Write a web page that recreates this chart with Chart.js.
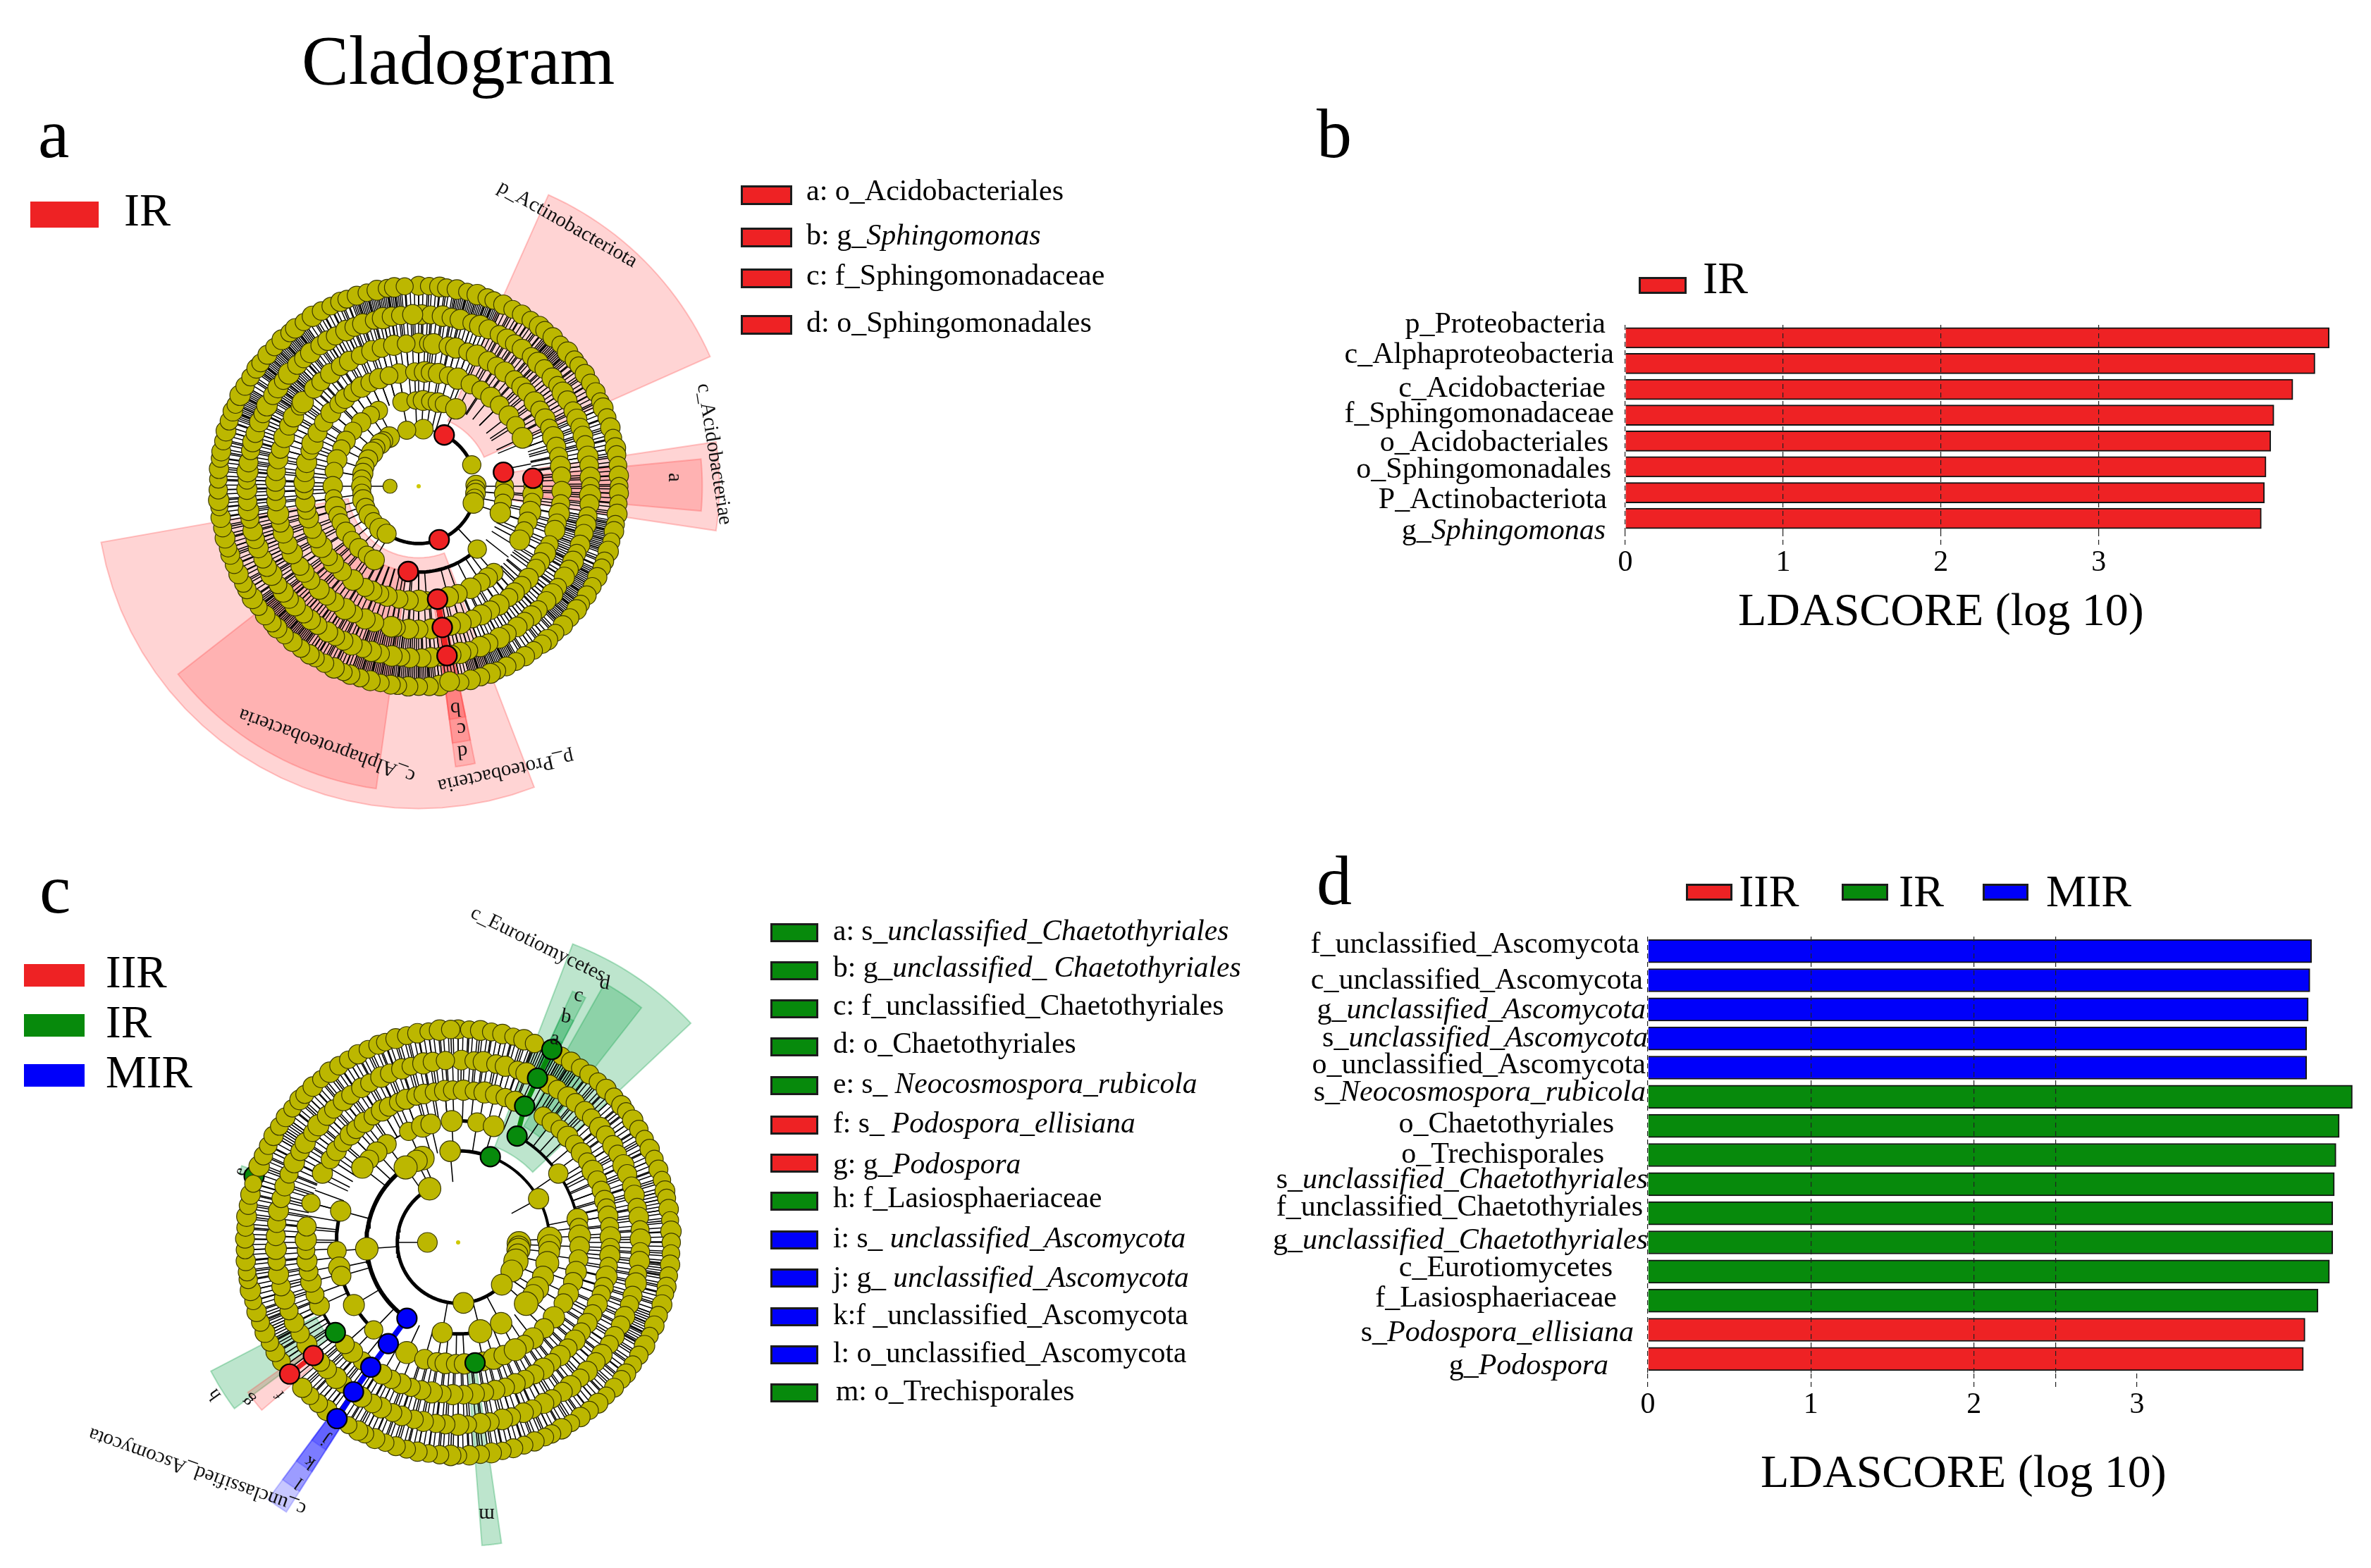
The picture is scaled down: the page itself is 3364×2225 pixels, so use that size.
<!DOCTYPE html>
<html>
<head>
<meta charset="utf-8">
<title>Cladogram</title>
<script src="https://cdn.jsdelivr.net/npm/chart.js@4/dist/chart.umd.min.js"></script>
<style>
  html, body { margin: 0; padding: 0; background: #fff; width: 3364px; height: 2225px; overflow: hidden; }
  #page { position: relative; width: 3364px; height: 2225px; overflow: hidden; font-family: "Liberation Serif", serif; color: #000; }
  #page canvas { position: absolute; }
  .t { position: absolute; white-space: nowrap; line-height: 1; transform: translateY(-50%); }
  .s { position: absolute; box-sizing: border-box; }
</style>
</head>
<body>
<div id="page">
  <canvas id="cladeA" width="1000" height="1000" style="left:94px;top:190px"></canvas>
  <canvas id="cladeC" width="1200" height="1200" style="left:50px;top:1163px"></canvas>
  <canvas id="barB" width="1564" height="414" style="left:1800px;top:400px"></canvas>
  <canvas id="barD" width="1564" height="729" style="left:1800px;top:1280px"></canvas>
</div>
<script>
// bar panel b
var bLabels = ["p_Proteobacteria", "c_Alphaproteobacteria", "c_Acidobacteriae", "f_Sphingomonadaceae", "o_Acidobacteriales", "o_Sphingomonadales", "P_Actinobacteriota", "g_|Sphingomonas"];
var bValues = [4.46, 4.37, 4.23, 4.11, 4.09, 4.06, 4.05, 4.03];
var bTicks = [0, 1, 2, 3];
var bLabelInset = [28, 16, 28, 16, 24, 20, 26, 28];
var bLabelNudge = [-18, -12, -1, -1, 3, 5, 11, 18];

// bar panel d
var dLabels = ["f_unclassified_Ascomycota", "c_unclassified_Ascomycota", "g_|unclassified_Ascomycota", "s_|unclassified_Ascomycota", "o_unclassified_Ascomycota", "s_|Neocosmospora_rubicola", "o_Chaetothyriales", "o_Trechisporales", "s_|unclassified_Chaetothyriales", "f_unclassified_Chaetothyriales", "g_|unclassified_Chaetothyriales", "c_Eurotiomycetes", "f_Lasiosphaeriaceae", "s_|Podospora_ellisiana", "g_|Podospora"];
var dValues = [4.07, 4.06, 4.05, 4.04, 4.04, 4.32, 4.24, 4.22, 4.21, 4.20, 4.20, 4.18, 4.11, 4.03, 4.02];
var dGroups = ["MIR", "MIR", "MIR", "MIR", "MIR", "IR", "IR", "IR", "IR", "IR", "IR", "IR", "IR", "IIR", "IIR"];
var dTicks = [0, 1, 2, 2.5, 3];
var dLabelInset = [12, 7, 3, 0, 3, 3, 48, 62, 0, 7, 0, 50, 44, 20, 56];
var dLabelNudge = [-9, 1, 2, 0, -3, -5, -2, 0, -5, -8, -2, -4, -3, 5, 11];

// legends
var aKey = [["a: o_Acidobacteriales", ""], ["b: g_", "Sphingomonas"], ["c: f_Sphingomonadaceae", ""], ["d: o_Sphingomonadales", ""]];
var cKey = [["a: s_", "unclassified_Chaetothyriales"], ["b: g_", "unclassified_ Chaetothyriales"], ["c: f_unclassified_Chaetothyriales", ""], ["d: o_Chaetothyriales", ""], ["e: s_ ", "Neocosmospora_rubicola"], ["f: s_ ", "Podospora_ellisiana"], ["g: g_", "Podospora"], ["h: f_Lasiosphaeriaceae", ""], ["i: s_ ", "unclassified_Ascomycota"], ["j: g_ ", "unclassified_Ascomycota"], ["k:f _unclassified_Ascomycota", ""], ["l: o_unclassified_Ascomycota", ""], ["m: o_Trechisporales", ""]];
var cKeyGroups = ["IR", "IR", "IR", "IR", "IR", "IIR", "IIR", "IR", "MIR", "MIR", "MIR", "MIR", "IR"];

// cladogram a: node bearings in degrees clockwise from the top, one list per ring
var aRings = [42, 84, 126, 168, 210, 252, 294];
var aDots = [10, 14, 13.5, 14, 14, 14, 13.5];
var aRing42 = [270];
var aRing84 = [4.6, 348, 329, 322, 318, 312, 306, 298, 290, 283, 277, 270, 263, 256, 248, 240, 232, 222, 214, 68, 89, 93, 97, 102, 107];
var aRing126 = [349, 358, 3, 8, 13, 17, 25.7, 332, 326, 318, 310, 302, 296, 288, 280, 270, 262, 256, 250, 245, 238, 231, 224, 217, 211, 90, 95, 101, 108, 137];
var aRing168 = [350, 358, 3, 6, 10, 15, 20, 27, 33, 39, 45, 52, 58, 65, 90, 94, 98, 103, 108, 113, 118, 139, 143, 147, 153, 160, 165, 176, 180, 185, 190, 196, 200, 204, 208, 215, 222, 228, 232, 238, 243, 248, 254, 258, 262, 268, 272, 277, 282, 288, 292, 298, 304, 310, 316, 320, 325, 330, 335, 340, 345];
var aRing210 = [0, 4, 6, 12, 15, 20, 24, 29, 33, 37, 42, 46, 49, 54, 58, 62, 66, 70, 74, 78, 82, 86, 92, 97, 101, 105, 108, 114, 118, 122, 125, 130, 134, 138, 141, 146, 150, 154, 158, 163, 167, 171, 175, 180, 184, 189, 191, 198, 202, 207, 211, 216, 220, 224, 229, 233, 236, 242, 246, 251, 255, 259, 264, 268, 272, 276, 281, 285, 290, 295, 299, 304, 306, 313, 317, 322, 327, 331, 336, 341, 345, 350, 355];
var aRing252 = [1, 4, 8, 11, 14, 18, 21, 24, 28, 31, 34, 37, 41, 44, 47, 51, 54, 57, 60, 64, 67, 70, 73, 76, 80, 83, 87, 90, 93, 96, 100, 103, 106, 110, 113, 116, 119, 122, 126, 129, 132, 136, 139, 142, 145, 149, 152, 156, 159, 163, 166, 169, 173, 176, 179, 183, 186, 189, 193, 196, 199, 203, 206, 209, 212, 216, 219, 222, 226, 229, 232, 235, 239, 242, 245, 249, 252, 255, 259, 262, 265, 269, 272, 275, 278, 282, 285, 288, 292, 295, 298, 302, 305, 308, 311, 315, 318, 321, 325, 328, 331, 335, 338, 341, 345, 348, 351, 354, 358];
var aRing294 = [0, 3, 6, 8, 11, 14, 17, 20, 22, 25, 28, 31, 34, 37, 39, 42, 45, 48, 51, 53, 56, 59, 62, 65, 67, 70, 73, 76, 79, 81, 84, 87, 90, 92, 95, 98, 101, 103, 106, 109, 112, 114, 117, 120, 123, 126, 128, 131, 134, 137, 140, 142, 145, 148, 151, 154, 157, 159, 162, 165, 168, 174, 177, 180, 183, 186, 188, 191, 194, 197, 200, 202, 205, 208, 211, 213, 216, 219, 222, 225, 227, 230, 233, 236, 239, 241, 244, 247, 250, 252, 255, 258, 261, 264, 266, 269, 272, 275, 278, 280, 283, 286, 289, 292, 294, 297, 300, 303, 306, 308, 311, 314, 317, 320, 322, 325, 328, 331, 334, 337, 339, 342, 345, 348, 351, 353, 356];
var dotScale = [1, 0.92, 1.05, 0.95, 1.03, 0.9, 1.08, 0.97, 0.93, 1.02, 0.94];
var aBigNodes = [[171, 290]];
var aRedNodes = [[26.5, 84], [159, 84], [80.6, 126], [187, 126], [86, 168], [170.5, 168], [170.5, 210], [170.5, 252]];
// [inner ring, outer ring, from bearing, to bearing, branches]
var aBranches = [[252, 294, 0, 10, 8], [252, 294, 10, 25, 28], [252, 294, 25, 40, 12], [252, 294, 40, 50, 18], [252, 294, 50, 100, 38], [252, 294, 100, 110, 18], [252, 294, 110, 115, 4], [252, 294, 115, 135, 36], [252, 294, 135, 150, 12], [252, 294, 150, 165, 28], [252, 294, 165, 175, 10], [252, 294, 175, 200, 44], [252, 294, 200, 215, 14], [252, 294, 215, 235, 36], [252, 294, 235, 290, 42], [252, 294, 290, 300, 18], [252, 294, 300, 305, 4], [252, 294, 305, 325, 36], [252, 294, 325, 340, 12], [252, 294, 340, 355, 28], [252, 294, 355, 360, 4],
  [210, 252, 0, 60, 40], [210, 252, 60, 100, 26], [210, 252, 100, 118, 22], [210, 252, 118, 180, 44], [210, 252, 180, 200, 26], [210, 252, 200, 260, 44], [210, 252, 260, 300, 30], [210, 252, 300, 315, 20], [210, 252, 315, 360, 34],
  [168, 210, 0, 90, 36], [168, 210, 90, 180, 32], [168, 210, 180, 270, 40], [168, 210, 270, 360, 36],
  [126, 168, 0, 90, 8], [126, 168, 95, 135, 6], [126, 168, 180, 270, 22], [126, 168, 270, 360, 18]];
var aArcs = [[84, 108, 159, 5], [84, 159, 214, 5], [84, 26.5, 68, 5], [126, 137, 187, 5], [84, 348, 386, 2], [126, 349, 385, 2]];
// [from bearing, to bearing, inner ring, outer ring, fill]
var aWedges = [[24, 66, 105, 468, "p"], [81.5, 98.5, 135, 441, "p"], [84.5, 95, 165, 416, "p"], [159, 260, 105, 473, "p"], [188, 232, 126, 448, "p"], [168.5, 172.5, 170, 415, "p"], [168.5, 172.5, 205, 380, "p"], [168.5, 172.5, 250, 345, "p"]];
// [bearing, ring, rotation, text, size]
var aTags = [[29.6, 442, 29.6, "p_Actinobacteriota", 29], [83.8, 436, 81, "c_Acidobacteriae", 29], [88, 375, 90, "a", 29], [199.5, 403, 199.9, "c_Alphaproteobacteria", 29], [163, 437, 167.7, "p_Proteobacteria", 29], [170.6, 330, 175, "b", 29], [170, 361, 175, "c", 29], [170.6, 394, 175, "d", 29]];

// cladogram c
var cRings = [45, 89, 134, 178, 223, 267, 312];
var cDots = [14, 16, 16, 14.5, 14, 14, 13.5];
var cRing45 = [270];
var cRing89 = [332, 175, 91, 94, 97, 101, 108, 118, 134];
var cRing134 = [266, 355, 337, 333, 325, 61.5, 88, 92, 96, 103, 112, 120, 125, 132, 152, 166, 190];
var cRing178 = [285, 266, 258, 254, 239, 224, 205, 196, 190, 186, 181, 177, 168, 163, 158, 357, 336, 343, 347, 9, 17, 324, 318, 313, 308, 55.5, 79, 83, 87, 92, 98, 104, 109, 115, 120, 128, 135, 142, 147, 152];
var cRing223 = [245.5, 250, 255, 259, 263, 267, 271, 276, 285, 297, 303, 307, 311, 315, 318, 322, 326, 330, 333, 337, 340, 344, 347, 351, 355, 358, 2, 6, 10, 14, 18, 22, 34, 38, 42, 46, 50, 54, 58, 62, 66, 70, 74, 77, 80, 84, 88, 92, 95, 99, 103, 107, 110, 114, 118, 122, 126, 130, 134, 138, 142, 146, 150, 154, 158, 162, 166, 170, 174, 178, 182, 186, 190, 194, 198, 202, 206, 210, 219, 224, 228];
var cRing267 = [1, 5, 8, 12, 15, 19, 22, 30, 33, 37, 40, 44, 47, 51, 54, 58, 61, 65, 68, 72, 75, 79, 82, 86, 89, 93, 96, 100, 103, 107, 110, 114, 117, 121, 124, 128, 131, 135, 138, 142, 145, 149, 152, 156, 159, 163, 166, 170, 173, 177, 180, 184, 187, 191, 194, 198, 201, 205, 208, 212, 219, 222, 226, 229, 236, 240, 244, 248, 252, 256, 260, 264, 268, 272, 276, 280, 284, 288, 292, 296, 300, 303, 307, 310, 314, 317, 321, 324, 328, 331, 335, 338, 342, 345, 349, 352, 356];
var cRing312 = [0, 3, 6, 9, 12, 15, 18, 21, 29, 32, 35, 38, 41, 44, 47, 50, 52, 55, 58, 61, 64, 67, 70, 73, 76, 78, 81, 84, 87, 90, 93, 96, 99, 102, 104, 107, 110, 113, 116, 119, 122, 125, 128, 130, 133, 136, 139, 142, 145, 148, 151, 154, 156, 159, 162, 165, 168, 171, 174, 177, 180, 182, 185, 188, 191, 194, 197, 200, 203, 206, 208, 211, 218, 221, 224, 227, 236, 239, 242, 245, 248, 251, 254, 257, 260, 262, 265, 268, 271, 274, 277, 280, 283, 286, 291, 294, 297, 300, 303, 306, 309, 312, 314, 317, 320, 323, 326, 329, 332, 335, 338, 340, 343, 346, 349, 352, 355, 358];
var cGreenNodes = [[20.6, 134], [29, 178], [26, 222], [25.8, 267], [25.9, 314], [233.7, 223], [172, 178]];
var cHiddenNodes = [[288, 314]];
var cRedNodes = [[232, 269], [232, 313]];
var cBlueNodes = [[214, 134], [214.6, 180], [215, 223], [215, 267], [214.5, 313]];
var cBranches = [[267, 312, 0, 20, 15], [267, 312, 20, 35, 22], [267, 312, 35, 75, 30], [267, 312, 75, 82, 7], [267, 312, 82, 95, 10], [267, 312, 95, 100, 7], [267, 312, 100, 110, 8], [267, 312, 110, 120, 14], [267, 312, 120, 180, 44], [267, 312, 180, 240, 44], [267, 312, 240, 250, 12], [267, 312, 250, 300, 36], [267, 312, 300, 306, 8], [267, 312, 306, 360, 40],
  [223, 267, 0, 60, 32], [223, 267, 60, 120, 34], [223, 267, 120, 180, 32], [223, 267, 180, 240, 36], [223, 267, 240, 300, 32], [223, 267, 300, 360, 34],
  [178, 223, 60, 120, 18], [178, 223, 120, 200, 30], [178, 223, 270, 300, 6], [178, 223, 300, 360, 12]];
var cArcs = [[89, 175, 332, 5], [89, 134, 175, 5], [134, 355, 380.6, 5], [134, 20.6, 90, 4], [134, 214, 325, 6], [178, 214, 285, 5], [178, 29, 79, 4], [134, 166, 190, 5], [134, 152, 166, 4], [178, 357, 369, 5], [223, 233, 245, 4], [178, 308, 336, 2]];
var cWedges = [[21, 46.7, 150, 468, "g"], [29.5, 38, 195, 436, "g"], [24.5, 27.5, 265, 404, "g"], [24.5, 27.5, 270, 366, "g"], [24.5, 27.5, 290, 330, "g"], [233.4, 242.5, 235, 408, "g"], [229.5, 234.5, 275, 378, "p"], [171.8, 175.5, 180, 445, "g"], [287.5, 289.5, 322, 336, "g"], [212.5, 216.5, 315, 468, "b"], [212.5, 216.5, 315, 432, "b"], [212.5, 216.5, 315, 398, "b"], [212.5, 216.5, 315, 360, "b"]];
var cTags = [[15, 452, 26, "c_Eurotiomycetes", 29], [228.7, 508, 199.6, "c_unclassified_Ascomycota", 29], [29.5, 436, 10, "d", 29], [26, 402, 10, "c", 29], [25.6, 366, 10, "b", 29], [25.4, 330, 10, "a", 29], [288, 335, 290, "e", 24], [229.5, 343, 230, "f", 22], [233, 385, 225, "g", 26], [238, 420, 235, "h", 26], [214, 348, 215, "j", 26], [214, 388, 215, "k", 26], [213.5, 422, 215, "l", 26], [174, 400, 180, "m", 29]];

var groupColors = { IIR: "#ee2224", IR: "#078a0c", MIR: "#0000fa" };
var wedgeColors = { p: "rgba(255,40,40,0.2)", g: "rgba(10,160,70,0.27)", b: "rgba(20,20,255,0.24)" };
var wedgeEdges = { p: "rgba(255,60,60,0.28)", g: "rgba(10,160,70,0.3)", b: "rgba(20,20,255,0.2)" };
var OLIVE = "#bcb700";

function polar(bearing, r) {
  var a = bearing * Math.PI / 180;
  return { x: r * Math.sin(a), y: r * Math.cos(a) };
}

function nodeSet(points, radius, color, edge, lineW) {
  return {
    type: "scatter",
    data: points.map(function (p) { return polar(p[0], p[1]); }),
    pointRadius: radius,
    pointBackgroundColor: color,
    pointBorderColor: edge,
    pointBorderWidth: lineW
  };
}

function ringSet(list, ring, radius) {
  var sizes = list.map(function (a, i) { return radius * dotScale[i % dotScale.length]; });
  return nodeSet(list.map(function (a) { return [a, ring]; }), sizes, OLIVE, "#3b3a00", 1.2);
}

function lineSet(points, color, width) {
  return { type: "scatter", showLine: true, data: points, borderColor: color, borderWidth: width, pointRadius: 0, fill: false, spanGaps: false };
}

// radial strokes from each node back to the ring below it, the second ring sits on its own arcs
function spokes(lists, rings) {
  var out = [];
  lists[0].forEach(function (a) {
    out.push(polar(a, rings[0]), polar(a, rings[1]), { x: NaN, y: NaN });
  });
  lists.forEach(function (list, i) {
    if (i < 2) return;
    list.forEach(function (a) {
      out.push(polar(a, rings[i - 1]), polar(a, rings[i]), { x: NaN, y: NaN });
    });
  });
  return out;
}

function branchLines(runs) {
  var out = [];
  runs.forEach(function (run) {
    for (var i = 0; i < run[4]; i++) {
      var a = run[2] + (run[3] - run[2]) * i / run[4];
      out.push(polar(a, run[0]), polar(a, run[1]), { x: NaN, y: NaN });
    }
  });
  return out;
}

function arcLine(arc) {
  var out = [];
  for (var a = arc[1]; a < arc[2]; a += 2) out.push(polar(a, arc[0]));
  out.push(polar(arc[2], arc[0]));
  return out;
}

function colouredLine(list) {
  var out = [];
  for (var i = 1; i < list.length; i++) out.push(polar(list[i - 1][0], list[i - 1][1]), polar(list[i][0], list[i][1]), { x: NaN, y: NaN });
  return out;
}

// pale clade sectors under the tree, rotated clade names above it
var cladeDecor = {
  id: "cladeDecor",
  beforeDatasetsDraw: function (chart) {
    var o = chart.options.plugins.cladeDecor, ctx = chart.ctx, sx = chart.scales.x, sy = chart.scales.y;
    o.wedges.forEach(function (w) {
      ctx.beginPath();
      for (var a = w[0]; a <= w[1] + 0.001; a += (w[1] - w[0]) / 24) {
        var p = polar(a, w[3]);
        ctx.lineTo(sx.getPixelForValue(p.x), sy.getPixelForValue(p.y));
      }
      for (var b = w[1]; b >= w[0] - 0.001; b -= (w[1] - w[0]) / 24) {
        var q = polar(b, w[2]);
        ctx.lineTo(sx.getPixelForValue(q.x), sy.getPixelForValue(q.y));
      }
      ctx.closePath();
      ctx.fillStyle = wedgeColors[w[4]];
      ctx.fill();
      ctx.strokeStyle = wedgeEdges[w[4]];
      ctx.lineWidth = 2;
      ctx.stroke();
    });
  },
  afterDatasetsDraw: function (chart) {
    var o = chart.options.plugins.cladeDecor, ctx = chart.ctx, sx = chart.scales.x, sy = chart.scales.y;
    o.tags.forEach(function (t) {
      var p = polar(t[0], t[1]);
      ctx.save();
      ctx.translate(sx.getPixelForValue(p.x), sy.getPixelForValue(p.y));
      ctx.rotate(t[2] * Math.PI / 180);
      ctx.font = t[4] + 'px "Liberation Serif"';
      ctx.fillStyle = "#111";
      ctx.textAlign = "center";
      ctx.textBaseline = "middle";
      ctx.fillText(t[3], 0, 0);
      ctx.restore();
    });
  }
};

function drawClade(id, half, rings, dots, lists, extra, runs, arcs, wedges, tags) {
  var datasets = [{ type: "scatter", data: [{ x: 0, y: 0 }], pointRadius: 3, pointBackgroundColor: "#cfc800", pointBorderWidth: 0 }];
  datasets = datasets.concat(extra.nodes);
  for (var i = lists.length - 1; i >= 0; i--) datasets.push(ringSet(lists[i], rings[i], dots[i]));
  extra.under.forEach(function (n) { datasets.push(n); });
  extra.lines.forEach(function (l) { datasets.push(l); });
  arcs.forEach(function (arc) { datasets.push(lineSet(arcLine(arc), "#000", arc[3])); });
  datasets.push(lineSet(spokes(lists, rings), "#000", 1.6));
  datasets.push(lineSet(branchLines(runs), "#000", 1.5));

  new Chart(document.getElementById(id), {
    type: "scatter",
    data: { datasets: datasets },
    plugins: [cladeDecor],
    options: {
      responsive: false,
      animation: false,
      events: [],
      scales: {
        x: { type: "linear", min: -half, max: half, display: false },
        y: { type: "linear", min: -half, max: half, display: false }
      },
      plugins: { legend: { display: false }, tooltip: { enabled: false }, cladeDecor: { wedges: wedges, tags: tags } }
    }
  });
}

var rowLabels = {
  id: "rowLabels",
  afterDraw: function (chart) {
    var o = chart.options.plugins.rowLabels, ctx = chart.ctx, area = chart.chartArea;
    o.labels.forEach(function (text, i) {
      var parts = text.split("|");
      var plain = parts[0], ital = parts[1] || "";
      var y = chart.scales.y.getPixelForValue(i) + o.nudge[i];
      var x = area.left - o.inset[i];
      ctx.save();
      ctx.textBaseline = "middle";
      ctx.textAlign = "left";
      ctx.fillStyle = "#000";
      ctx.font = 'italic 42px "Liberation Serif"';
      var w2 = ctx.measureText(ital).width;
      ctx.font = '42px "Liberation Serif"';
      var w1 = ctx.measureText(plain).width;
      ctx.fillText(plain, x - w1 - w2, y);
      ctx.font = 'italic 42px "Liberation Serif"';
      ctx.fillText(ital, x - w2, y);
      ctx.restore();
    });
  }
};

function drawBars(id, labels, values, colors, ticks, hiddenGrid, maxX, pad, thick, inset, nudge) {
  new Chart(document.getElementById(id), {
    type: "bar",
    data: {
      labels: labels.map(function (l) { return l.replace("|", ""); }),
      datasets: [{ data: values, backgroundColor: colors, borderColor: "#141414", borderWidth: 2, barThickness: thick, borderSkipped: "left" }]
    },
    plugins: [rowLabels],
    options: {
      indexAxis: "y",
      responsive: false,
      animation: false,
      events: [],
      layout: { padding: pad },
      scales: {
        x: {
          type: "linear", min: 0, max: maxX,
          afterBuildTicks: function (s) { s.ticks = ticks.map(function (v) { return { value: v }; }); },
          afterFit: function (s) { s.height = 60; },
          border: { display: false, dash: [7, 5] },
          grid: {
            z: 1, drawOnChartArea: true, lineWidth: 1.2, tickLength: 20, tickBorderDash: [7, 5],
            color: function (c) { return hiddenGrid.indexOf(c.tick.value) >= 0 ? "rgba(0,0,0,0)" : "#222"; },
            tickColor: "#222"
          },
          ticks: {
            color: "#000", autoSkip: false, maxRotation: 0, padding: 0,
            font: { family: "Liberation Serif", size: 42 },
            callback: function (v) { return Number.isInteger(v) ? String(v) : ""; }
          }
        },
        y: { type: "category", display: false, grid: { display: false } }
      },
      plugins: { legend: { display: false }, tooltip: { enabled: false }, rowLabels: { labels: labels, inset: inset, nudge: nudge } }
    }
  });
}

// plain page text, panel letters and swatches
var page = document.getElementById("page");
function text(x, y, size, plain, ital) {
  var d = document.createElement("div");
  d.className = "t";
  d.style.left = x + "px";
  d.style.top = y + "px";
  d.style.fontSize = size + "px";
  d.appendChild(document.createTextNode(plain));
  if (ital) {
    var i = document.createElement("i");
    i.textContent = ital;
    d.appendChild(i);
  }
  page.appendChild(d);
}
function swatch(x, y, w, h, color, outlined) {
  var d = document.createElement("div");
  d.className = "s";
  d.style.cssText = "left:" + x + "px;top:" + (y - h / 2) + "px;width:" + w + "px;height:" + h + "px;background:" + color + (outlined ? ";border:3px solid #1c1c1c" : "");
  page.appendChild(d);
}

text(428, 86, 100, "Cladogram");
text(54, 190, 100, "a");
text(1868, 190, 100, "b");
text(56, 1262, 100, "c");
text(1868, 1250, 100, "d");

swatch(43, 304, 97, 37, groupColors.IIR, false);
text(176, 298, 66, "IR");
var aSwatchY = [277, 337, 395, 461];
var aTextY = [270, 333, 390, 457];
aKey.forEach(function (k, i) {
  swatch(1051, aSwatchY[i], 73, 28, groupColors.IIR, true);
  text(1144, aTextY[i], 42, k[0], k[1]);
});

["IIR", "IR", "MIR"].forEach(function (g, i) {
  swatch(34, 1384 + i * 71, 86, 32, groupColors[g], false);
  text(150, 1379 + i * 71, 65, g);
});
var cKeyY = [1323, 1377, 1431, 1485, 1540, 1596, 1650, 1704, 1759, 1813, 1868, 1922, 1976];
var cTextY = [1321, 1373, 1427, 1481, 1538, 1594, 1652, 1700, 1757, 1813, 1866, 1920, 1974];
cKey.forEach(function (k, i) {
  swatch(1093, cKeyY[i], 68, 27, groupColors[cKeyGroups[i]], true);
  text(i === 12 ? 1186 : 1182, cTextY[i], 41.5, k[0], k[1]);
});

swatch(2325, 405, 68, 24, groupColors.IIR, true);
text(2416, 395, 64, "IR");
swatch(2392, 1266, 66, 24, groupColors.IIR, true);
text(2467, 1265, 64, "IIR");
swatch(2613, 1266, 66, 24, groupColors.IR, true);
text(2694, 1265, 64, "IR");
swatch(2813, 1266, 65, 24, groupColors.MIR, true);
text(2903, 1265, 64, "MIR");

text(2466, 865, 66, "LDASCORE (log 10)");
text(2498, 2088, 66, "LDASCORE (log 10)");

drawBars("barB", bLabels, bValues, groupColors.IIR, bTicks, [], 4.6, { left: 506, right: 28, top: 61, bottom: 0 }, 29, bLabelInset, bLabelNudge);
drawBars("barD", dLabels, dValues, dGroups.map(function (g) { return groupColors[g]; }), dTicks, [3], 4.4, { left: 538, right: 8, top: 49, bottom: 0 }, 33, dLabelInset, dLabelNudge);

drawClade("cladeA", 500, aRings, aDots, [aRing42, aRing84, aRing126, aRing168, aRing210, aRing252, aRing294], {
  nodes: [nodeSet(aRedNodes, 14, groupColors.IIR, "#000", 2.4), nodeSet(aBigNodes, 14, OLIVE, "#3b3a00", 1.2)],
  under: [],
  lines: [lineSet(colouredLine([[170.5, 168], [170.5, 252]]), groupColors.IIR, 8)]
}, aBranches, aArcs, aWedges, aTags);

drawClade("cladeC", 600, cRings, cDots, [cRing45, cRing89, cRing134, cRing178, cRing223, cRing267, cRing312], {
  nodes: [nodeSet(cBlueNodes, 14, groupColors.MIR, "#000", 2.2), nodeSet(cRedNodes, 14, groupColors.IIR, "#000", 2.2), nodeSet(cGreenNodes, 14, groupColors.IR, "#000", 2.2)],
  under: [nodeSet(cHiddenNodes, 14, groupColors.IR, "#000", 2.2)],
  lines: [
    lineSet(colouredLine(cBlueNodes), groupColors.MIR, 8),
    lineSet(colouredLine(cRedNodes), groupColors.IIR, 7),
    lineSet(colouredLine(cGreenNodes.slice(1, 5)), groupColors.IR, 7)
  ]
}, cBranches, cArcs, cWedges, cTags);
</script>
</body>
</html>
